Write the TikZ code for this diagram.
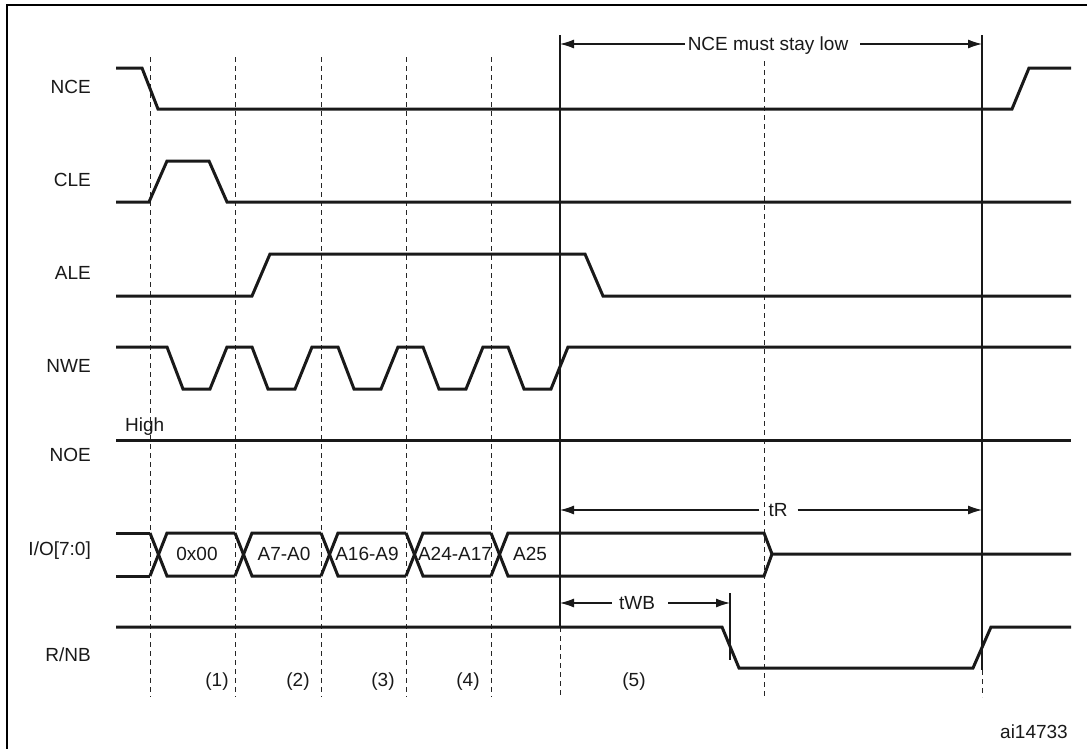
\documentclass[tikz,border=0pt]{standalone}
\usepackage{fontspec}
\setmainfont{Liberation Sans}
\usetikzlibrary{arrows.meta}
\begin{document}
\begin{tikzpicture}[x=1pt,y=-1pt,
  sig/.style={line width=3pt,line join=miter,line cap=butt,black!90},
  gridline/.style={line width=1pt,dash pattern=on 5pt off 4pt,black!85},
  marker/.style={line width=1.1pt,black!90},
  dimarrow/.style={line width=1.1pt,-{Latex[length=14pt,width=9pt]},black!90},
  lbl/.style={font=\fontsize{19}{22}\selectfont,inner sep=0pt,text height=13.6pt,text depth=0pt,text=black!90},
  siglabel/.style={lbl,anchor=east}]
\useasboundingbox (0,0) rectangle (1087,748);
\fill[white] (0,0) rectangle (1087,748);
% frame
\draw[line width=2pt] (7,760) -- (7,5) -- (1095,5);

% dashed grid lines
\foreach \xx in {150,235,321,406,491}{
  \draw[gridline] (\xx,57) -- (\xx,697);
}
\draw[gridline] (764,61) -- (764,697);
\draw[gridline] (560,627) -- (560,697);
\draw[gridline] (982,670) -- (982,697);
% solid marker lines
\coordinate (m1top) at (560,35); \coordinate (m1bot) at (560,627);
\coordinate (m2top) at (982,35); \coordinate (m2bot) at (982,670);
\draw[marker] (m1top) -- (m1bot);
\draw[marker] (m2top) -- (m2bot);
\coordinate (wbtop) at (730,593); \coordinate (wbbot) at (730,660);
\draw[marker] (wbtop) -- (wbbot);

% signal labels
\node[siglabel] (lNCE) at (91,87) {NCE};
\node[siglabel] (lCLE) at (91,180) {CLE};
\node[siglabel] (lALE) at (91,273) {ALE};
\node[siglabel] (lNWE) at (91,366) {NWE};
\node[siglabel] (lNOE) at (91,455) {NOE};
\node[siglabel] (lIO) at (91,549) {I/O[7:0]};
\node[siglabel] (lRNB) at (91,655) {R/NB};

% NCE
\draw[sig] (116,68) -- (142,68) -- (158,109) -- (1012,109) -- (1029,68) -- (1071,68);
% CLE
\draw[sig] (116,202) -- (149,202) -- (167,161) -- (209,161) -- (227,202) -- (1071,202);
% ALE
\draw[sig] (116,296) -- (252,296) -- (270,254) -- (585,254) -- (603,296) -- (1071,296);
% NWE
\draw[sig] (116,347) -- (167,347)
  \foreach \xx in {150,235,321,406,491}{
    -- (\xx+17,347) -- (\xx+33,389) -- (\xx+60,389) -- (\xx+77,347)
  } -- (1071,347);
% NOE
\draw[sig] (116,440) -- (1071,440);
\node[lbl,anchor=west] (high) at (125,425) {High};
% I/O
\draw[sig] (116,533) -- (150,533);
\draw[sig] (116,576) -- (150,576);
\foreach \xx/\nx in {150/235,235/321,321/406,406/491}{
  \draw[sig] (\xx,533) -- (\xx+17,576) -- (\nx,576);
  \draw[sig] (\xx,576) -- (\xx+17,533) -- (\nx,533);
}
\draw[sig] (491,533) -- (508,576) -- (764,576) -- (772,554) -- (1071,554);
\draw[sig] (491,576) -- (508,533) -- (764,533) -- (772,554);
\node[lbl] (d0) at (197,554) {0x00};
\node[lbl] (d1) at (284,554) {A7-A0};
\node[lbl] (d2) at (367,554) {A16-A9};
\node[lbl] (d3) at (455,554) {A24-A17};
\node[lbl] (d4) at (530,554) {A25};
% R/NB
\draw[sig] (116,627) -- (722,627) -- (739,668) -- (973,668) -- (991,627) -- (1071,627);

% NCE must stay low
\node[lbl] (nce) at (768,44) {NCE must stay low};
\coordinate (nceL) at (560,44); \coordinate (nceR) at (982,44);
\draw[dimarrow] ([xshift=-3pt]nce.west) -- (nceL);
\draw[dimarrow] ([xshift=12pt]nce.east) -- (nceR);
% tR
\node[lbl] (tr) at (778,510) {tR};
\coordinate (trL) at (560,510); \coordinate (trR) at (982,510);
\draw[dimarrow] ([xshift=-9pt]tr.west) -- (trL);
\draw[dimarrow] ([xshift=10pt]tr.east) -- (trR);
% tWB
\node[lbl] (twb) at (637,603) {tWB};
\coordinate (twbL) at (560,603); \coordinate (twbR) at (730,603);
\draw[dimarrow] ([xshift=-7pt]twb.west) -- (twbL);
\draw[dimarrow] ([xshift=13pt]twb.east) -- (twbR);

% phase labels
\node[lbl] (p1) at (217,680) {(1)};
\node[lbl] (p2) at (298,680) {(2)};
\node[lbl] (p3) at (383,680) {(3)};
\node[lbl] (p4) at (468,680) {(4)};
\node[lbl] (p5) at (634,680) {(5)};

\node[lbl,anchor=east] (ai) at (1068,732) {ai14733};
\end{tikzpicture}
\end{document}
